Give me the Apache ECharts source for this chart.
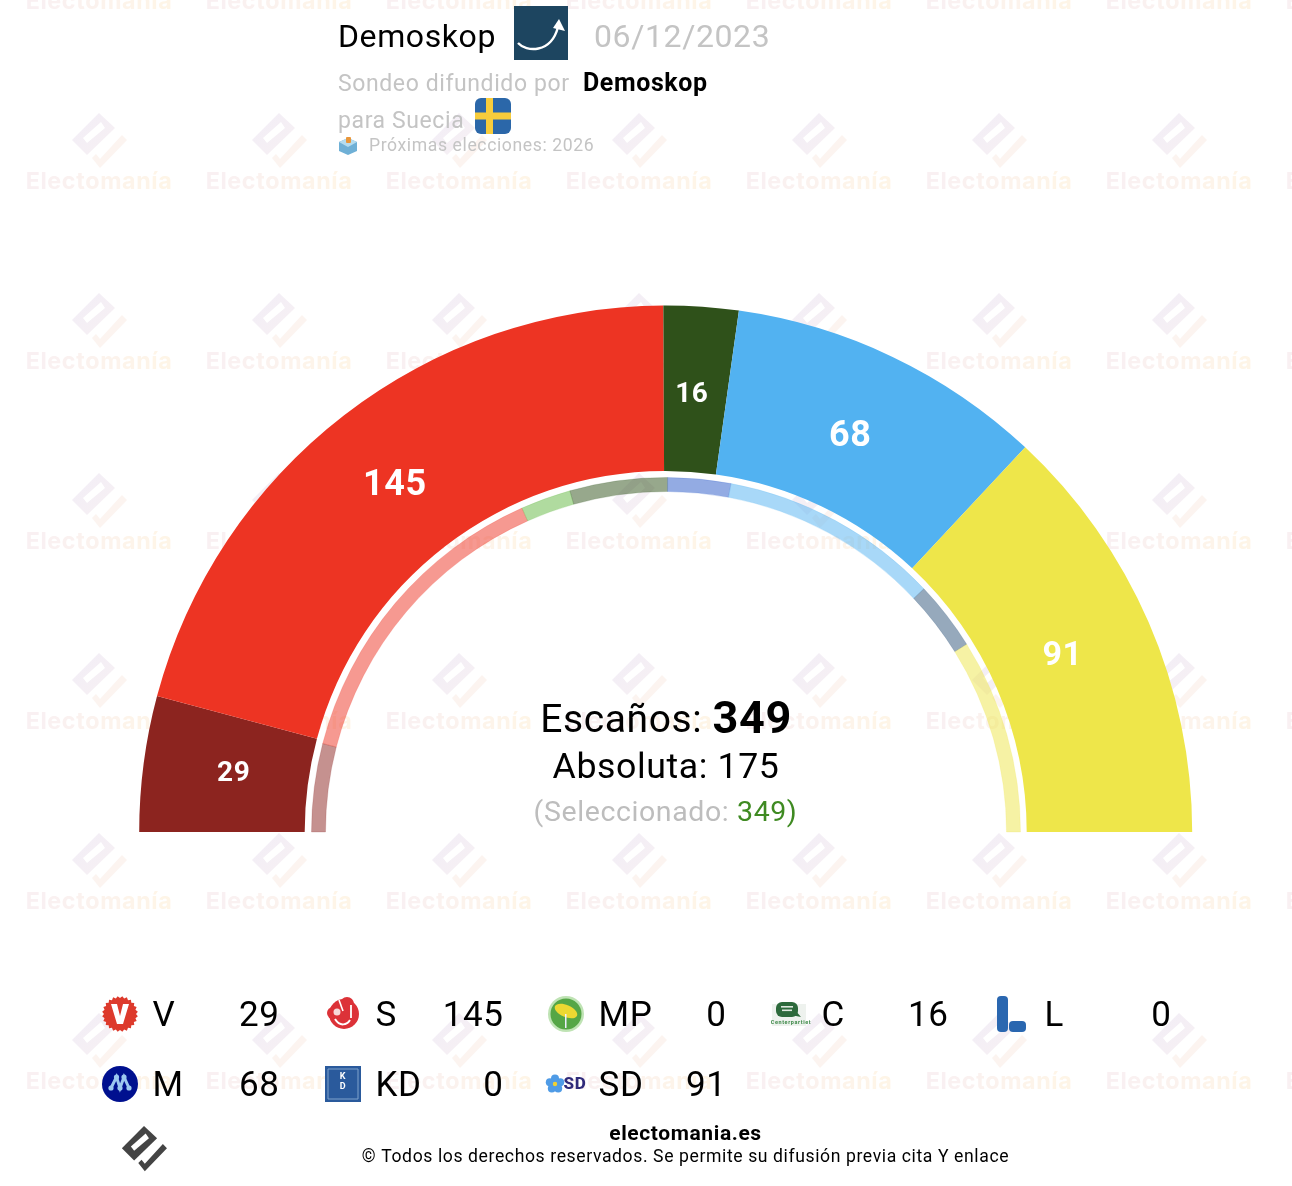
<!DOCTYPE html>
<html><head><meta charset="utf-8">
<style>html,body{margin:0;padding:0;background:#fff}#c{width:1292px;height:1186px}</style>
<script src="https://cdn.jsdelivr.net/npm/echarts@6/dist/echarts.min.js"></script>
</head><body><div id="c"></div>
<script>
const parties = ['V','S','MP','C','L','M','KD','SD'];
const seats = [29,145,0,16,0,68,0,91];
const previousSeats = [28,100,16,31,20,70,22,62];
const partyColors = ['#8c241f','#ed3423','#61b83f','#2f511a','#2858c8','#52b2f1','#2d5379','#eee64a'];
const seatLabelSizes = [28,36,0,28,0,36,0,34];
const pollster = 'Demoskop';
const pollDate = '06/12/2023';
const country = 'Suecia';
const nextElection = '2026';
const totalSeats = 349;
const majority = 175;
const selected = 349;

// the reference sets all text with a small uniform letter spacing
const SPACING='0.6px';
['fillText','measureText'].forEach(m=>{
  const orig=CanvasRenderingContext2D.prototype[m];
  CanvasRenderingContext2D.prototype[m]=function(){ this.letterSpacing=SPACING; return orig.apply(this,arguments); };
});

const FF = 'Roboto, sans-serif';
const chart = echarts.init(document.getElementById('c'), null, {renderer:'canvas', width:1292, height:1186});
const G = [];
const txt = (text,x,y,size,fill,opt={}) => G.push({type:'text',z:10,silent:true,style:Object.assign({text,x,y:y+size*0.08,fontSize:size,fontFamily:FF,fill,align:'left',verticalAlign:'middle'},opt)});

// logo: rotated rectangle, slot, check mark
const logoParts = (x,y,s=1)=>{
  const P=a=>a.map(p=>[x+p[0]*s,y+p[1]*s]);
  return {
    diamond:P([[0,-28],[16,-13],[-12,14],[-27,-1]]),
    slot:P([[-16,-3],[-12,2],[6,-13],[2,-19]]),
    check:P([[23,-6],[28,-1],[1,27],[-7,17],[-3,13],[1,18]])
  };
};
const wmLetters = 'Electomanía'.split('');
const wmColors = ['#f9f0f2','#f9f0f2','#faf1f1','#faf1f0','#fbf2ef','#fbf2ee','#fcf3ec','#fdf4ea','#fdf4e9','#fef5e8','#fef5e7'];
const wmRich = {}; wmColors.forEach((c,i)=>wmRich['l'+i]={fill:c,fontSize:23.3,fontWeight:700,fontFamily:'Inter, sans-serif'});
const wmText = wmLetters.map((l,i)=>'{l'+i+'|'+l+'}').join('');
const wmGrad = ()=>new echarts.graphic.LinearGradient(0,0,1,1,[{offset:0,color:'#f2eef7'},{offset:1,color:'#f7f0f3'}]);
for(let row=0;row<7;row++){ for(let col=0;col<8;col++){
  const cx=99+180*col, ty=2+180*row, ly=ty-41;
  const L=logoParts(cx,ly);
  G.push({type:'polygon',z:0,silent:true,shape:{points:L.diamond},style:{fill:wmGrad()}});
  G.push({type:'polygon',z:0,silent:true,shape:{points:L.slot},style:{fill:'#fff'}});
  G.push({type:'polygon',z:0,silent:true,shape:{points:L.check},style:{fill:'#fcf4f0'}});
  G.push({type:'text',z:0,silent:true,style:{text:wmText,rich:wmRich,x:cx,y:ty,align:'center',verticalAlign:'middle'}});
}}

// header
txt(pollster,338,36,32,'#000');
G.push({type:'rect',z:10,silent:true,shape:{x:514,y:6,width:54,height:54},style:{fill:'#1d4560'}});
G.push({type:'bezierCurve',z:11,silent:true,shape:{x1:518,y1:43,cpx1:526,cpy1:52,cpx2:551,cpy2:54,x2:558,y2:27},style:{fill:null,stroke:'#fff',lineWidth:2.4}});
G.push({type:'polygon',z:11,silent:true,shape:{points:[[559,19],[565,31],[553,28]]},style:{fill:'#fff'}});
txt(pollDate,594,36,32,'#c4c4c4');
txt('Sondeo difundido por',338,83,23,'#c4c4c4');
txt(pollster,583,83,25,'#000',{fontWeight:700});
txt('para '+country,338,120,23,'#c4c4c4');
G.push({type:'rect',z:10,silent:true,shape:{x:475,y:98,width:36,height:36,r:6},style:{fill:'#2b67a9'}});
G.push({type:'rect',z:11,silent:true,shape:{x:486,y:98,width:7,height:36},style:{fill:'#f7cc3c'}});
G.push({type:'rect',z:11,silent:true,shape:{x:475,y:112.5,width:36,height:7},style:{fill:'#f7cc3c'}});
G.push({type:'polygon',z:10,silent:true,shape:{points:[[339,142],[348,138],[357,142],[357,151],[348,155],[339,151]]},style:{fill:'#6fb0d6'}});
G.push({type:'polygon',z:11,silent:true,shape:{points:[[339,142],[348,138],[357,142],[348,147]]},style:{fill:'#b5dcef'}});
G.push({type:'rect',z:11,silent:true,shape:{x:346,y:137,width:5,height:6,r:1},style:{fill:'#e8973c'}});
txt('Próximas elecciones: '+nextElection,369,145,17.6,'#c4c4c4');

// centre
G.push({type:'text',z:10,silent:true,style:{text:'{a|Escaños: }{b|'+totalSeats+'}',x:666,y:722,align:'center',verticalAlign:'middle',rich:{a:{fontSize:39,fontFamily:FF,fill:'#000'},b:{fontSize:45,fontFamily:FF,fontWeight:700,fill:'#000'}}}});
txt('Absoluta: '+majority,666,766,35.7,'#000',{align:'center'});
G.push({type:'text',z:10,silent:true,style:{text:'{a|(Seleccionado: }{b|'+selected+'}{c|)}',x:665.5,y:814,align:'center',verticalAlign:'middle',rich:{a:{fontSize:28.5,fontFamily:FF,fill:'#bdbdbd'},b:{fontSize:28.5,fontFamily:FF,fill:'#3f8a22'},c:{fontSize:28.5,fontFamily:FF,fill:'#3f8a22'}}}});

// legend
const colX=[120,343,566,789,1012], valR=[279.5,503.5,726.5,948.5,1171.5], rowY=[1014,1084];
const shp=(type,shape,fill,extra={})=>G.push(Object.assign({type,z:10,silent:true,shape,style:{fill}},extra));
const line=(type,shape,stroke,lineWidth)=>G.push({type,z:11,silent:true,shape,style:{fill:null,stroke,lineWidth}});
const icons={
 V(x,y){const pts=[];for(let a=0;a<48;a++){const t=a/48*Math.PI*2,r=a%2?18:16;pts.push([x+r*Math.cos(t),y+r*Math.sin(t)]);}shp('polygon',{points:pts},'#dd3a2c');shp('polygon',{points:[[x-9,y-10],[x-3,y-10],[x,y+2],[x+3,y-10],[x+9,y-10],[x+3,y+10],[x-3,y+10]]},'#fff');},
 S(x,y){shp('circle',{cx:x+1,cy:y,r:15},'#dc3238');shp('circle',{cx:x-10,cy:y-1,r:6},'#dc3238');shp('circle',{cx:x+4,cy:y-10,r:7},'#dc3238');shp('circle',{cx:x-6,cy:y-2,r:3.5},'#f7d9d9');
   line('bezierCurve',{x1:x-8,y1:y+5,cpx1:x-3,cpy1:y+13,cpx2:x+4,cpy2:y+11,x2:x+7,y2:y+6},'#fff',2);
   line('line',{x1:x+8,y1:y-9,x2:x+8,y2:y+4},'#fff',1.8);
   line('line',{x1:x-4,y1:y-14,x2:x,y2:y-3},'#fff',1.6);},
 MP(x,y){shp('circle',{cx:x,cy:y,r:18},'#bfe3b4');shp('circle',{cx:x,cy:y,r:15.5},'#55a646');shp('ellipse',{cx:x,cy:y-3,rx:12,ry:6},'#ecd832',{rotation:-0.4,originX:x,originY:y-3});shp('rect',{x:x-1,y:y,width:1.5,height:14},'#eef');},
 C(x,y){shp('rect',{x:x-17,y:y-10,width:34,height:22},'#eef2ee');shp('rect',{x:x-13,y:y-12,width:22,height:15,r:6},'#2d6a3c');shp('polygon',{points:[[x+2,y+1],[x+12,y+3],[x+6,y-4]]},'#2d6a3c');shp('rect',{x:x-8,y:y-8,width:12,height:1.6},'#dfe9df');shp('rect',{x:x-7,y:y-4.5,width:10,height:1.6},'#dfe9df');G.push({type:'text',z:11,silent:true,style:{text:'Centerpartiet',x:x+2,y:y+9,align:'center',verticalAlign:'middle',fontSize:5.5,fontWeight:700,fontFamily:FF,fill:'#3f8a4a'}});},
 L(x,y){shp('rect',{x:x-15,y:y-18,width:11,height:36,r:4},'#2a67b0');shp('rect',{x:x-3,y:y+7,width:17,height:11,r:4},'#2a67b0');},
 M(x,y){shp('circle',{cx:x,cy:y,r:18},'#00108f');const pts=[[x-9,y+4],[x-3.5,y-7],[x,y+4],[x+4,y-7],[x+9,y+4]];line('polyline',{points:pts},'#9cc8f0',3);pts.forEach(p=>G.push({type:'circle',z:11,silent:true,shape:{cx:p[0],cy:p[1],r:2.6},style:{fill:'#9cc8f0'}}));},
 KD(x,y){shp('rect',{x:x-18,y:y-18,width:36,height:36},'#2a5a9c');G.push({type:'rect',z:11,silent:true,shape:{x:x-15,y:y-15,width:30,height:30},style:{fill:null,stroke:'#7fa2cc',lineWidth:1}});G.push({type:'text',z:11,silent:true,style:{text:'K\nD',x,y:y-2,align:'center',verticalAlign:'middle',fontSize:9,lineHeight:10,fontWeight:700,fontFamily:FF,fill:'#fff'}});},
 SD(x,y){[[0,-5.5],[5.2,-1.7],[3.2,4.5],[-3.2,4.5],[-5.2,-1.7]].forEach(o=>shp('circle',{cx:x-11+o[0],cy:y+o[1],r:4},'#4f9be6'));shp('circle',{cx:x-11,cy:y,r:2.2},'#f0d030');G.push({type:'text',z:11,silent:true,style:{text:'SD',x:x+9,y:y+1,align:'center',verticalAlign:'middle',fontSize:17,fontWeight:800,fontFamily:FF,fill:'#2f2a7a'}});}
};
parties.forEach((p,i)=>{
  const r=Math.floor(i/5), c=i%5, y=rowY[r];
  icons[p](colX[c],y);
  txt(p,colX[c]+32.5,y,35,'#000');
  txt(String(seats[i]),valR[c],y,35,'#000',{align:'right'});
});

// footer
const FL=logoParts(144,1149,0.82);
G.push({type:'polygon',z:10,silent:true,shape:{points:FL.diamond},style:{fill:'#444'}});
G.push({type:'polygon',z:10,silent:true,shape:{points:FL.slot},style:{fill:'#fff'}});
G.push({type:'polygon',z:10,silent:true,shape:{points:FL.check},style:{fill:'#444'}});
txt('electomania.es',685.5,1133,21,'#000',{align:'center',fontWeight:700});
txt('© Todos los derechos reservados. Se permite su difusión previa cita Y enlace',685.5,1156,17.6,'#000',{align:'center'});

const alpha=(hex,a)=>{const n=parseInt(hex.slice(1),16);return `rgba(${n>>16},${(n>>8)&255},${n&255},${a})`;};
const labelNudge=[[11,0],[2,8],[0,0],[-4,9],[0,0],[-8,8],[0,0],[-13,2]];
chart.setOption({
  animation:false,
  backgroundColor:'#fff',
  graphic:{elements:G},
  series:[
    {type:'pie',silent:true,z:5,center:[665.7,832],radius:[361,526.5],startAngle:180,endAngle:0,clockwise:true,
     minAngle:0,avoidLabelOverlap:false,stillShowZeroSum:false,
     labelLine:{show:false},
     labelLayout:p=>({dx:labelNudge[p.dataIndex][0],dy:labelNudge[p.dataIndex][1]}),
     data:parties.map((p,i)=>({name:p,value:seats[i],
       itemStyle:{color:partyColors[i]},
       label:{show:seats[i]>0,position:'inside',formatter:'{c}',color:'#fff',fontSize:seatLabelSizes[i],fontWeight:700,fontFamily:FF}}))},
    {type:'pie',silent:true,z:5,center:[666,832],radius:[340.5,354.5],startAngle:180,endAngle:0,clockwise:true,
     label:{show:false},labelLine:{show:false},
     data:parties.map((p,i)=>({name:p+' previo',value:previousSeats[i],
       itemStyle:{color:alpha(partyColors[i],0.5),borderColor:alpha(partyColors[i],0.3),borderWidth:0.6}}))}
  ]
});
</script></body></html>
